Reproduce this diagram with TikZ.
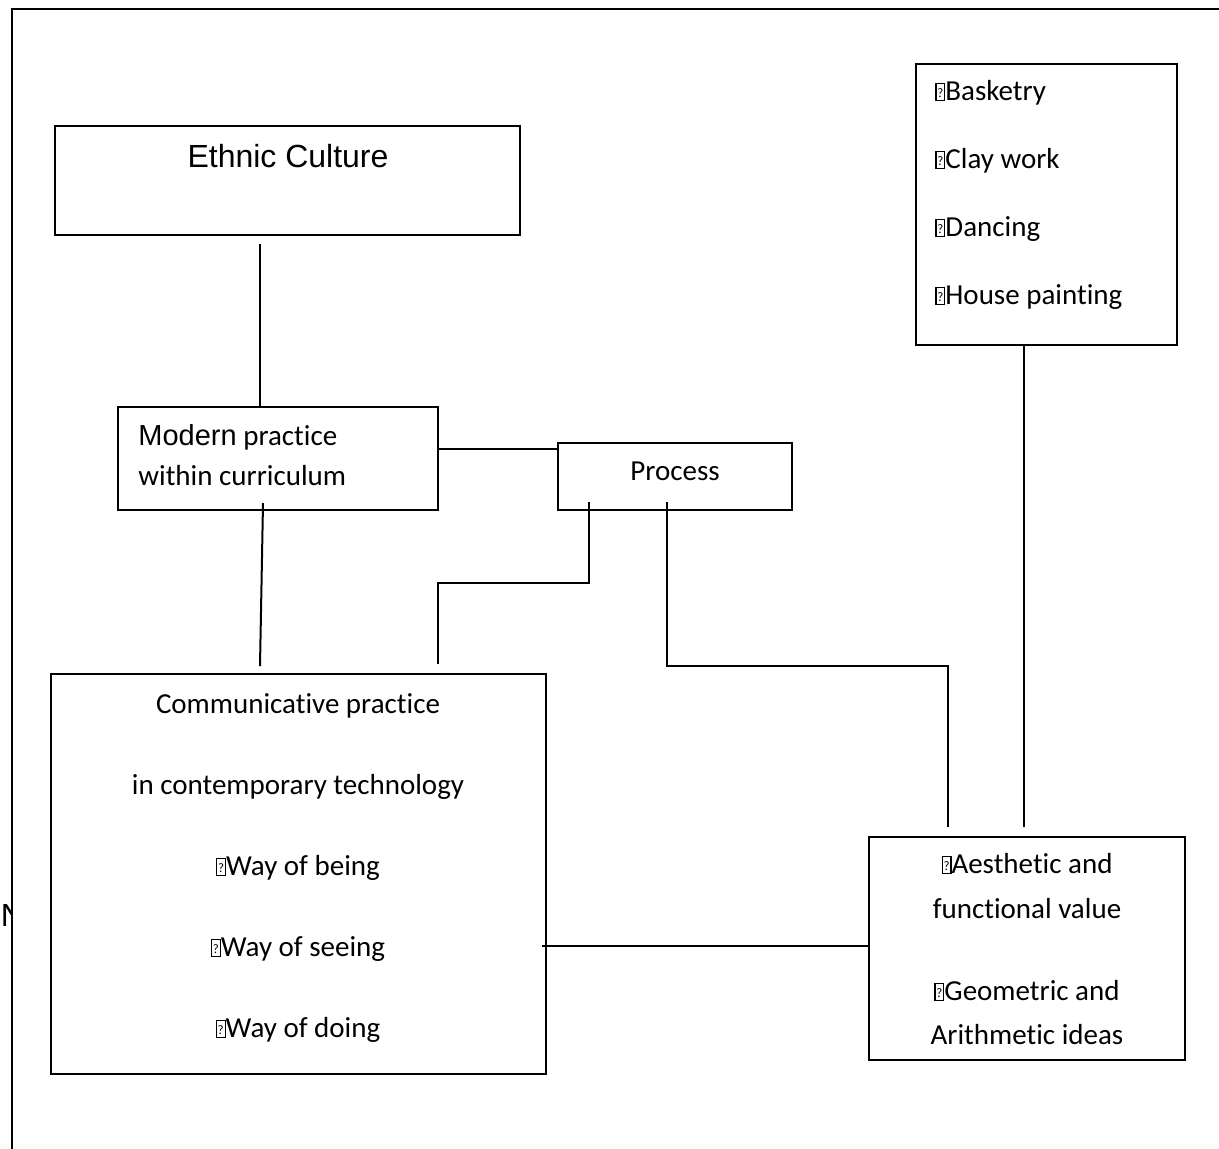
\documentclass[tikz,border=0pt]{standalone}
\usepackage{fontspec}
\setmainfont{Carlito}[Ligatures=NoCommon]
\newfontfamily\arialf{Liberation Sans}
\usetikzlibrary{calc}
\newcommand\qb{{\setlength\fboxsep{0pt}\setlength\fboxrule{0.6pt}\fbox{\makebox[3.8pt]{\rule{0pt}{8pt}\raisebox{1.2pt}{\fontsize{6.5}{6.5}\selectfont ?}}}}}
\begin{document}
\begin{tikzpicture}[x=0.5pt,y=-0.5pt,
  box/.style={draw, rectangle, inner sep=0pt, line width=1pt},
  txt/.style={inner sep=0pt, font=\fontsize{14.5}{17}\selectfont, anchor=base},
  link/.style={draw, line width=1pt}]
\useasboundingbox (0,0) rectangle (1219,1148);
% partially hidden letter at the left
\node[inner sep=0pt, anchor=base west, font=\arialf\fontsize{16}{19}\selectfont] (nletter) at (0.6,926) {N};
\fill[white] (12,9) rectangle (1240,1170);
\draw[line width=1pt] (1240,9) -- (12,9) -- (12,1170);

% boxes
\node[box, minimum width=232.5pt, minimum height=54.5pt] (eth) at (287.5,180.5) {};
\node[box, minimum width=160pt, minimum height=51.5pt] (mod) at (278,458.5) {};
\node[box, minimum width=117pt, minimum height=33.5pt] (proc) at (675,476.5) {};
\node[box, minimum width=247.5pt, minimum height=200pt] (comm) at (298.5,874) {};
\node[box, minimum width=158pt, minimum height=111.5pt] (aes) at (1027,948.5) {};
\node[box, minimum width=130.5pt, minimum height=140.5pt] (bask) at (1046.5,204.5) {};

% texts
\node[txt, font=\arialf\fontsize{16}{19}\selectfont] (ethT) at (288,167) {Ethnic Culture};
\node[txt, anchor=base west] (modT1) at (138,445) {{\arialf Modern} practice};
\node[txt, anchor=base west] (modT2) at (138,485) {within curriculum};
\node[txt] (procT) at (675,480) {Process};
\node[txt] (commT1) at (298,713) {Communicative practice};
\node[txt] (commT2) at (298,794) {in contemporary technology};
\node[txt] (commT3) at (298,875) {\qb Way of being};
\node[txt] (commT4) at (298,956) {\qb Way of seeing};
\node[txt] (commT5) at (298,1037) {\qb Way of doing};
\node[txt] (aesT1) at (1027,873) {\qb Aesthetic and};
\node[txt] (aesT2) at (1027,918) {functional value};
\node[txt] (aesT3) at (1027,1000) {\qb Geometric and};
\node[txt] (aesT4) at (1027,1044) {Arithmetic ideas};
\node[txt, anchor=base west] (baskT1) at (935,100) {\qb Basketry};
\node[txt, anchor=base west] (baskT2) at (935,168) {\qb Clay work};
\node[txt, anchor=base west] (baskT3) at (935,236) {\qb Dancing};
\node[txt, anchor=base west] (baskT4) at (935,304) {\qb House painting};

% connectors
\draw[link] ([xshift=-13.75pt,yshift=-4pt]eth.south) -- ([xshift=-9pt]mod.north);
\draw[link] ([xshift=-7.5pt,yshift=4pt]mod.south) -- ([xshift=-19.25pt,yshift=3.5pt]comm.north);
\draw[link] ([yshift=4.75pt]mod.east) -- ([yshift=13.75pt]proc.west);
\draw[link] ([xshift=-43pt,yshift=4.5pt]proc.south) -- ++(0,81) -| ([xshift=69.75pt,yshift=4.5pt]comm.north);
\draw[link] ([xshift=-4pt,yshift=4.5pt]proc.south) -- ++(0,164) -| ([xshift=-39.5pt,yshift=4.5pt]aes.north);
\draw[link] ([xshift=-11.25pt]bask.south) -- ([xshift=-1.5pt,yshift=4.5pt]aes.north);
\draw[link] ([xshift=-2.5pt,yshift=-36pt]comm.east) -- ([xshift=1pt,yshift=1.25pt]aes.west);
\end{tikzpicture}
\end{document}
